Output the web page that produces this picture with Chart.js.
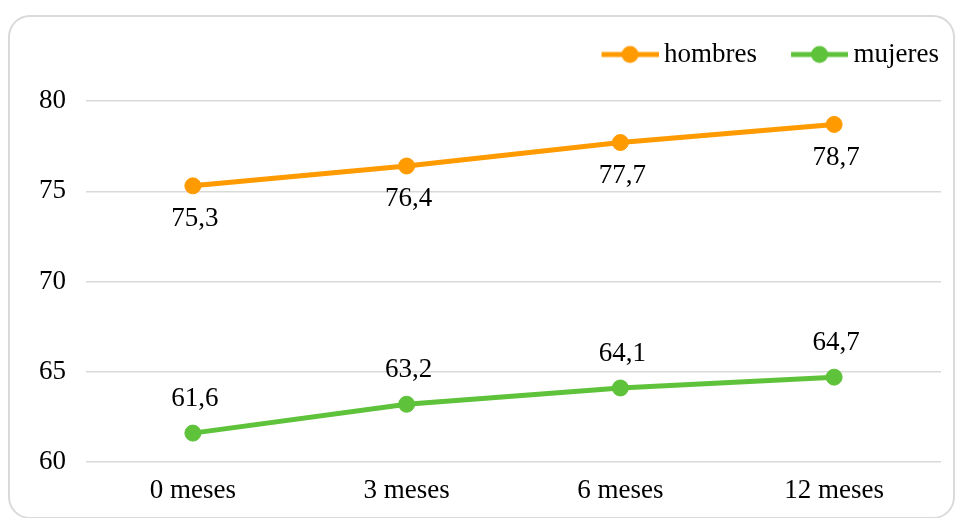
<!DOCTYPE html>
<html>
<head>
<meta charset="utf-8">
<script src="https://cdn.jsdelivr.net/npm/chart.js@4/dist/chart.umd.min.js"></script>
<style>
  html, body { margin: 0; padding: 0; background: #fff; }
  #wrap { position: relative; width: 956px; height: 518px; overflow: hidden; }
  #frame {
    position: absolute; left: 8px; top: 15px; width: 947px; height: 504px;
    box-sizing: border-box; border: 2px solid #dadada; border-radius: 22px;
    pointer-events: none;
  }
  canvas { position: absolute; left: 0; top: 0; }
</style>
</head>
<body>
<div id="wrap">
  <canvas id="chart" width="956" height="518"></canvas>
  <div id="frame"></div>
</div>
<script>
// Months since start and mean values per group
const categories = ['0 meses', '3 meses', '6 meses', '12 meses'];
const hombres = [75.3, 76.4, 77.7, 78.7];
const mujeres = [61.6, 63.2, 64.1, 64.7];
const yTicks = [60, 65, 70, 75, 80];

const ORANGE = '#FF9A00';
const GREEN = '#5EC23A';
const FONT = '"Liberation Serif", "DejaVu Serif", serif';
const FONT_SIZE = 27;

Chart.defaults.font.family = FONT;
Chart.defaults.font.size = FONT_SIZE;
Chart.defaults.color = '#000';

const fmt = v => v.toFixed(1).replace('.', ',');

// Legend marker: a short line with a dot in the middle
function legendMarker(color) {
  const c = document.createElement('canvas');
  c.width = 97; c.height = 20;
  const g = c.getContext('2d');
  g.strokeStyle = color;
  g.lineWidth = 5;
  g.beginPath(); g.moveTo(40, 10); g.lineTo(97, 10); g.stroke();
  g.fillStyle = color;
  g.beginPath(); g.arc(68.5, 10, 8.5, 0, Math.PI * 2); g.fill();
  return c;
}

// Writes each point's value next to it (below for hombres, above for mujeres)
const valueLabels = {
  id: 'valueLabels',
  afterDatasetsDraw(chart) {
    const ctx = chart.ctx;
    ctx.save();
    ctx.font = FONT_SIZE + 'px ' + FONT;
    ctx.fillStyle = '#000';
    ctx.textAlign = 'center';
    ctx.textBaseline = 'middle';
    chart.data.datasets.forEach((ds, i) => {
      const meta = chart.getDatasetMeta(i);
      meta.data.forEach((pt, j) => {
        ctx.fillText(fmt(ds.data[j]), pt.x + 2, pt.y + ds.labelShift);
      });
    });
    ctx.restore();
  }
};

new Chart(document.getElementById('chart'), {
  type: 'line',
  data: {
    labels: categories,
    datasets: [
      {
        label: 'hombres', data: hombres, labelShift: 33,
        borderColor: ORANGE, backgroundColor: ORANGE,
        pointBackgroundColor: ORANGE, pointBorderColor: ORANGE,
        borderWidth: 5, pointRadius: 8, pointBorderWidth: 1, tension: 0
      },
      {
        label: 'mujeres', data: mujeres, labelShift: -34,
        borderColor: GREEN, backgroundColor: GREEN,
        pointBackgroundColor: GREEN, pointBorderColor: GREEN,
        borderWidth: 5, pointRadius: 8, pointBorderWidth: 1, tension: 0
      }
    ]
  },
  options: {
    responsive: false,
    animation: false,
    devicePixelRatio: 1,
    layout: { padding: { left: 20, right: 15, top: 39, bottom: 13 } },
    plugins: {
      tooltip: { enabled: false },
      legend: {
        position: 'top',
        align: 'end',
        labels: {
          usePointStyle: true,
          pointStyleWidth: 81,
          padding: 2,
          color: '#000',
          font: { family: FONT, size: FONT_SIZE },
          generateLabels(chart) {
            return chart.data.datasets.map((ds, i) => ({
              text: ds.label,
              pointStyle: legendMarker(ds.borderColor),
              fillStyle: ds.borderColor,
              strokeStyle: ds.borderColor,
              lineWidth: 0,
              hidden: false,
              datasetIndex: i
            }));
          }
        }
      }
    },
    scales: {
      x: {
        type: 'category',
        offset: true,
        grid: { display: false, drawTicks: false },
        border: { display: false },
        ticks: { padding: 13, color: '#000', font: { size: FONT_SIZE } },
        afterFit(s) { s.height = 43; }
      },
      spacer: {
        axis: 'x',
        type: 'category',
        position: 'top',
        offset: true,
        labels: categories,
        grid: { display: false, drawTicks: false },
        border: { display: false },
        ticks: { display: false },
        afterFit(s) { s.height = 23; }
      },
      y: {
        min: yTicks[0],
        max: yTicks[yTicks.length - 1],
        afterBuildTicks(s) { s.ticks = yTicks.map(v => ({ value: v })); },
        grid: { color: '#d9d9d9', lineWidth: 1.5, drawTicks: false },
        border: { display: false },
        ticks: { padding: 20, color: '#000', font: { size: FONT_SIZE } },
        afterFit(s) { s.width = 66; }
      }
    }
  },
  plugins: [valueLabels]
});
</script>
</body>
</html>
